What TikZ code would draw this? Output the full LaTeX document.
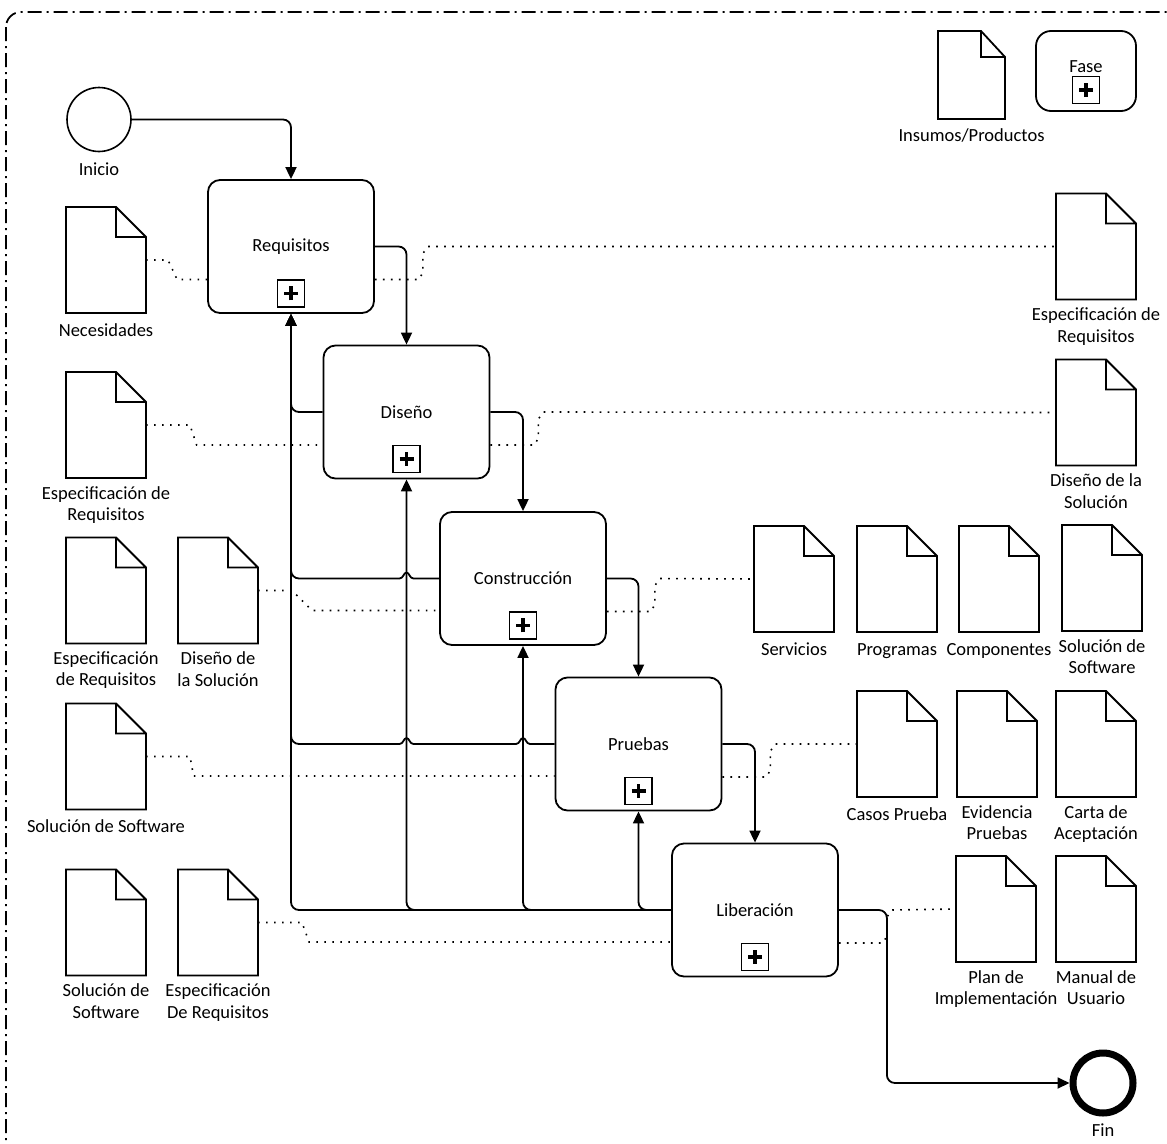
\documentclass[tikz,border=0pt]{standalone}
\usepackage{fontspec}
\setmainfont{Carlito}
\usetikzlibrary{arrows.meta,calc}

\begin{document}
\begin{tikzpicture}[
    x=1pt, y=-1pt,
    font=\fontsize{18.5}{21.5}\selectfont,
    task/.style={draw, line width=1.8pt, rounded corners=12pt, minimum width=166pt, minimum height=133pt, inner sep=0pt},
    plusbox/.style={draw, line width=1.3pt, minimum size=27pt, inner sep=0pt},
    plusbar/.style={line width=3.5pt},
    doc/.style={minimum width=80pt, minimum height=106pt, inner sep=0pt, outer sep=0pt},
    docline/.style={line width=1.8pt},
    lbl/.style={align=center, inner sep=0pt, anchor=north, execute at begin node=\strut},
    flow/.style={line width=1.8pt, rounded corners=8pt, -{Triangle[length=12pt, width=11pt]}},
    assoc/.style={line width=1.6pt, dash pattern=on 1.6pt off 6.4pt},
    event/.style={circle, draw, line width=1.6pt, minimum size=64pt, inner sep=0pt},
    endevent/.style={event, line width=7pt, minimum size=60pt},
    frame/.style={line width=1.8pt, rounded corners=15pt, dash pattern=on 14pt off 5pt on 2pt off 5pt},
]
\useasboundingbox (0,0) rectangle (1167,1143);

% --- outer frame ---
\begin{scope}
\clip (0,0) rectangle (1167,1143);
\draw[frame] (6,12) rectangle (1200,1180);
\end{scope}

% --- legend ---
\node[doc, minimum width=67pt, minimum height=88pt] (leg) at (971.5,75) {};
\draw[docline] (leg.south west) -- (leg.north west) -- ([xshift=-24pt]leg.north east) -- ([yshift=-26pt]leg.north east) -- (leg.south east) -- cycle
    ([xshift=-24pt]leg.north east) |- ([yshift=-26pt]leg.north east);
\node[lbl] (leg-l) at ([yshift=-7pt]leg.south) {Insumos/Productos};
\node[draw, line width=1.8pt, rounded corners=15pt, minimum width=100pt, minimum height=80pt] (fase) at (1086,71) {};
\node (fase-t) at (1086,67) {Fase};
\node[plusbox] (fase-p) at (1086,90) {};
\draw[plusbar] ([xshift=-7pt]fase-p.center) -- ([xshift=7pt]fase-p.center)
    ([yshift=-7pt]fase-p.center) -- ([yshift=7pt]fase-p.center);

% --- events ---
\node[event] (ini) at (99,119.5) {};
\node[lbl] (ini-l) at ([yshift=-8pt]ini.south) {Inicio};
\node[endevent] (fin) at (1103,1083) {};
\node[lbl] (fin-l) at ([yshift=-5pt]fin.south) {Fin};

% --- phases ---
\foreach \n/\p/\t in {req/{291,246.5}/Requisitos, dis/{406.5,412}/Diseño,
    con/{523,578.5}/Construcción, pru/{638.5,744}/Pruebas, lib/{755,910}/Liberación}{
  \node[task] (\n) at (\p) {\t};
  \node[plusbox] (\n-p) at ([yshift=20.5pt]\n.south) {};
  \draw[plusbar] ([xshift=-7pt]\n-p.center) -- ([xshift=7pt]\n-p.center)
      ([yshift=-7pt]\n-p.center) -- ([yshift=7pt]\n-p.center);
}

% --- inputs and outputs ---
\foreach \n/\p/\t in {
    nec/{106,260}/Necesidades,
    espL/{106,425}/{Especificación de\\Requisitos},
    espC/{106,590.5}/{Especificación\\de Requisitos},
    dsolC/{218,590.5}/{Diseño de\\la Solución},
    solP/{106,756.5}/{Solución de Software},
    solL/{106,922.5}/{Solución de\\Software},
    espD/{218,922.5}/{Especificación\\De Requisitos},
    espR/{1096,246.5}/{Especificación de\\Requisitos},
    disR/{1096,412.5}/{Diseño de la\\Solución},
    ser/{794,579}/Servicios,
    pro/{897,579}/Programas,
    com/{999,579}/Componentes,
    solR/{1102,578}/{Solución de\\Software},
    cas/{897,744}/{Casos Prueba},
    evi/{997,744}/{Evidencia\\Pruebas},
    car/{1096,744}/{Carta de\\Aceptación},
    plan/{996,909}/{Plan de\\Implementación},
    man/{1096,909}/{Manual de\\Usuario}}{
  \node[doc] (\n) at (\p) {};
  \draw[docline] (\n.south west) -- (\n.north west) -- ([xshift=-30pt]\n.north east) -- ([yshift=-30pt]\n.north east) -- (\n.south east) -- cycle
      ([xshift=-30pt]\n.north east) |- ([yshift=-30pt]\n.north east);
  \node[lbl] (\n-l) at ([yshift=-8pt]\n.south) {\t};
}

% --- associations ---
\draw[assoc] (nec.east) -- ++(22,0) -- ($(req.west)+(-30,33)$) -- ($(req.west)+(0,33)$);
\draw[assoc] (espL.east) -- ++(44,0) -- ($(dis.west)+(-126,33)$) -- ($(dis.west)+(0,33)$);
\draw[assoc] (dsolC.east) -- ++(34,0) -- ($(con.west)+(-127,32)$) -- ($(con.west)+(0,32)$);
\draw[assoc] (solP.east) -- ++(44,0) -- ($(pru.west)+(-361,32)$) -- ($(pru.west)+(0,32)$);
\draw[assoc] (espD.east) -- ++(44,0) -- ($(lib.west)+(-362,32)$) -- ($(lib.west)+(0,32)$);
\foreach \t/\d in {req/espR, dis/disR, con/ser, pru/cas, lib/plan}
  \draw[assoc] ($(\t.east)+(0,33)$) -- ($(\t.east)+(44,33)$) -- ($(\t.east)+(48,26)$)
      -- ($(\t.east)+(48,7)$) -- ($(\t.east)+(53,0)$) -- (\d.west);

% --- sequence flow ---
\draw[flow] (ini.east) -| (req.north);
\draw[flow] (req.east) -| (dis.north);
\draw[flow] (dis.east) -| (con.north);
\draw[flow] (con.east) -| (pru.north);
\draw[flow] (pru.east) -| (lib.north);
\draw[flow] (lib.east) -- ++(48,0) |- (fin.west);

% --- feedback to earlier phases (with line hops) ---
\draw[flow] (dis.west) -| (req.south);
\draw[flow, sharp corners] (con.west) -- ([xshift=7pt]con.west -| dis.south)
    .. controls +(-4,0) and +(3,0) .. ([yshift=6pt]con.west -| dis.south)
    .. controls +(-3,0) and +(4,0) .. ([xshift=-7pt]con.west -| dis.south)
    [rounded corners=8pt] -| (req.south);
\draw[flow, sharp corners] (pru.west) -- ([xshift=7pt]pru.west -| con.south)
    .. controls +(-4,0) and +(3,0) .. ([yshift=6pt]pru.west -| con.south)
    .. controls +(-3,0) and +(4,0) .. ([xshift=-7pt]pru.west -| con.south)
    -- ([xshift=7pt]pru.west -| dis.south)
    .. controls +(-4,0) and +(3,0) .. ([yshift=6pt]pru.west -| dis.south)
    .. controls +(-3,0) and +(4,0) .. ([xshift=-7pt]pru.west -| dis.south)
    [rounded corners=8pt] -| (req.south);
\foreach \n in {req,dis,con,pru}
  \draw[flow] (lib.west) -| (\n.south);

\end{tikzpicture}
\end{document}
